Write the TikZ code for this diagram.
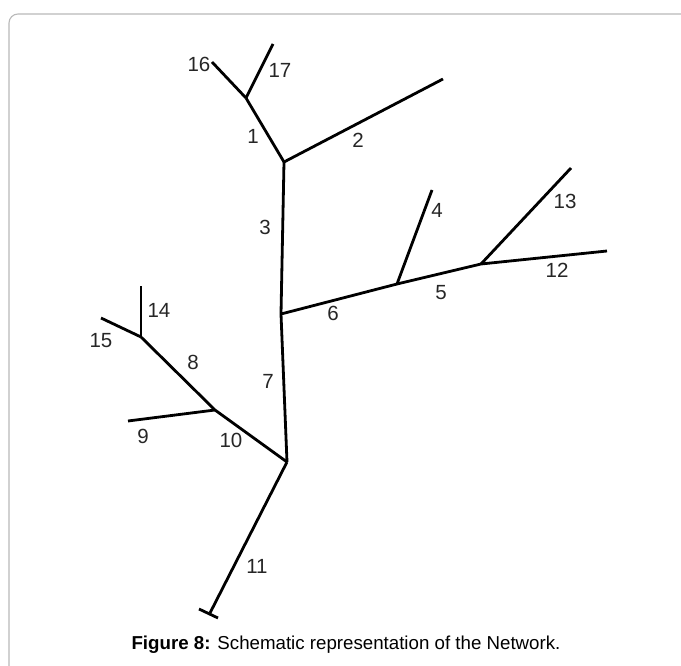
\documentclass[tikz,border=0pt]{standalone}
\usepackage{fontspec}
\setmainfont{Liberation Sans}
\usepackage{tikz}

\begin{document}
\begin{tikzpicture}[x=1pt, y=-1pt, every node/.style={font=\fontsize{20.5}{24}\selectfont, inner sep=0pt}, pipe/.style={line width=2.8pt, black}, lab/.style={text=black!85}]
	\useasboundingbox (0,0) rectangle (681,666);
	\begin{scope}
		\clip (0,0) rectangle (681,666);
		\draw[gray!55, line width=1.1pt, rounded corners=9pt] (9,14) rectangle (720,720);
	\end{scope}
	% junctions and pipe ends
	\coordinate (A) at (284,162); \coordinate (B) at (246,98); \coordinate (C) at (281,314); \coordinate (D) at (397,284);
	\coordinate (E) at (481,264); \coordinate (F) at (287,462); \coordinate (G) at (215,410); \coordinate (H) at (141,337);
	\coordinate (e2) at (443,79); \coordinate (e4) at (432,190); \coordinate (e9) at (128,421); \coordinate (e11) at (210,613);
	\coordinate (e12) at (607,251); \coordinate (e13) at (571,168); \coordinate (e14) at (141,286); \coordinate (e15) at (101,318);
	\coordinate (e16) at (212,62); \coordinate (e17) at (273,44); \coordinate (t1) at (199,609); \coordinate (t2) at (218,618);
	% pipes
	\draw[pipe] (A) -- (B); \draw[pipe] (A) -- (e2); \draw[pipe] (A) -- (C); \draw[pipe] (D) -- (e4);
	\draw[pipe] (C) -- (D) -- (E) -- (e12); \draw[pipe] (E) -- (e13);
	\draw[pipe] (C) -- (F); \draw[pipe] (F) -- (G) -- (H); \draw[pipe] (G) -- (e9); \draw[pipe] (F) -- (e11);
	\draw[pipe] (H) -- (e14); \draw[pipe] (H) -- (e15); \draw[pipe] (B) -- (e16); \draw[pipe] (B) -- (e17);
	\draw[pipe] (t1) -- (t2);
	% pipe numbers
	\node[lab] (l1) at (253,136) {1}; \node[lab] (l2) at (358,140) {2}; \node[lab] (l3) at (265,227) {3}; \node[lab] (l4) at (437,210) {4};
	\node[lab] (l5) at (441,293) {5}; \node[lab] (l6) at (333,313) {6}; \node[lab] (l7) at (268,381) {7}; \node[lab] (l8) at (193,362) {8};
	\node[lab] (l9) at (143,436) {9}; \node[lab] (l10) at (231,440) {10}; \node[lab] (l11) at (257,566) {11}; \node[lab] (l12) at (557,270) {12};
	\node[lab] (l13) at (565,201) {13}; \node[lab] (l14) at (159,310) {14}; \node[lab] (l15) at (101,341) {15}; \node[lab] (l16) at (199,64) {16};
	\node[lab] (l17) at (280,70) {17};
	\node[font=\fontsize{18.7}{22}\selectfont] (cap) at (346,645) {\textbf{Figure 8:} Schematic representation of the Network.};
\end{tikzpicture}
\end{document}
